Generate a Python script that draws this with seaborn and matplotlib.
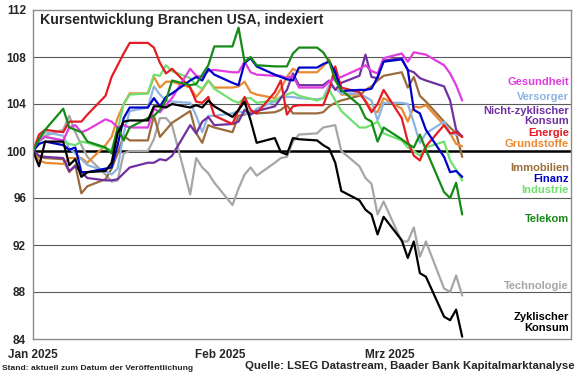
import numpy as np
import pandas as pd
import matplotlib
matplotlib.use("Agg")
import matplotlib.pyplot as plt
import matplotlib.transforms as mtransforms
import seaborn as sns

# ---------------- data (index, start = 100) ----------------
dates = pd.bdate_range("2025-01-01", "2025-03-13")

gesundheit = [100, 100.9, 101.2, 100.9, 102.0, 102.2, 101.6, 101.8, 102.7, 102.5, 102.0, 102.2, 102.0, 102.0,
              103.6, 103.3, 103.9, 104.5, 107.0, 106.4, 106.3, 106.8, 106.9, 106.7, 106.7, 107.6, 106.7, 106.5,
              106.4, 106.4, 106.2, 106.4, 105.4, 105.4, 105.4, 105.9, 106.2, 106.3, 107.0, 107.3, 106.8, 106.6,
              107.9, 108.3, 107.6, 108.4, 108.3, 108.2, 107.3, 106.6, 105.6, 104.3]
versorger = [100, 101.0, 101.6, 101.3, 100.2, 99.8, 99.3, 98.8, 98.3, 98.0, 98.5, 101.5, 103.4, 103.7,
             105.5, 104.8, 104.3, 104.2, 104.1, 103.0, 101.6, 103.0, 103.0, 103.2, 103.4, 103.2, 103.1, 103.6,
             104.2, 104.6, 104.6, 104.6, 104.5, 104.4, 104.5, 105.6, 105.3, 104.9, 104.9, 104.6, 104.3, 102.6,
             104.1, 104.1, 104.0, 102.4, 100.7, 101.5, 102.5, 101.5, 101.4, 101.3]
nicht_zykl = [100, 99.6, 99.5, 99.4, 98.3, 98.7, 98.2, 97.7, 97.5, 97.5, 97.6, 98.1, 98.6, 99.0,
              99.0, 99.3, 99.2, 99.6, 102.2, 101.5, 102.5, 102.9, 102.2, 102.3, 102.5, 103.5, 103.1, 103.4,
              103.8, 104.5, 105.2, 106.6, 105.6, 105.6, 105.6, 106.0, 105.2, 105.8, 106.4, 108.2, 106.3, 106.2,
              107.7, 107.9, 106.9, 106.7, 106.2, 106.0, 105.5, 104.3, 101.8, 101.2]
energie = [100, 101.4, 101.8, 101.6, 102.5, 102.5, 102.5, 103.1, 104.7, 106.3, 107.3, 108.3, 109.2, 109.2,
           108.8, 107.5, 106.6, 107.0, 105.4, 104.2, 104.1, 104.6, 103.0, 102.3, 103.5, 104.6, 103.5, 103.2,
           105.0, 106.0, 103.1, 103.8, 103.9, 103.9, 103.9, 105.2, 107.2, 105.4, 105.0, 104.2, 103.3, 104.0,
           105.2, 102.8, 100.8, 99.6, 99.2, 100.4, 102.2, 101.5, 101.6, 101.2]
grundstoffe = [100, 99.2, 99.0, 98.9, 99.4, 99.4, 99.4, 99.0, 100.5, 101.2, 102.8, 104.0, 104.9, 104.9,
               106.3, 105.4, 105.9, 105.9, 105.4, 104.6, 105.2, 106.0, 105.4, 105.4, 105.5, 105.9, 105.0, 104.8,
               104.5, 105.3, 106.3, 107.0, 106.7, 106.7, 107.2, 107.8, 106.3, 104.8, 104.8, 104.3, 103.5, 103.3,
               104.5, 103.6, 102.5, 103.8, 103.7, 103.9, 102.2, 101.5, 100.6, 100.4]
immobilien = [100, 99.5, 99.4, 99.3, 98.2, 98.8, 96.4, 97.0, 97.6, 98.5, 99.8, 101.3, 100.9, 100.9,
              103.0, 101.2, 101.8, 102.4, 103.4, 101.5, 100.7, 102.2, 102.0, 101.6, 103.0, 103.1, 103.3, 103.2,
              103.3, 103.5, 103.9, 103.2, 103.2, 103.2, 103.3, 103.8, 104.1, 104.3, 104.7, 105.2, 105.5, 106.0,
              106.4, 106.7, 105.4, 106.3, 104.7, 104.2, 102.5, 102.0, 101.5, 99.5]
finanz = [100, 100.6, 100.8, 100.5, 100.1, 100.3, 98.2, 98.2, 98.5, 98.6, 100.5, 102.8, 103.7, 103.7,
          104.5, 103.8, 104.6, 104.9, 106.0, 106.3, 106.0, 107.0, 106.5, 105.8, 105.6, 107.5, 107.9, 107.2,
          106.5, 106.3, 106.1, 106.0, 107.1, 107.1, 107.4, 107.6, 106.7, 105.1, 105.2, 105.2, 105.3, 106.3,
          107.6, 107.8, 106.9, 103.5, 103.2, 101.8, 99.5, 98.2, 98.3, 97.8]
industrie = [100, 100.8, 101.2, 100.9, 100.6, 100.5, 100.8, 100.7, 100.2, 100.1, 101.8, 104.0, 104.8, 104.9,
             106.5, 106.4, 107.3, 106.8, 106.2, 105.6, 105.3, 106.0, 105.3, 104.3, 104.1, 104.5, 104.5, 104.1,
             104.3, 104.6, 104.8, 105.0, 104.7, 104.3, 104.5, 105.2, 104.3, 103.4, 102.0, 102.0, 102.2, 102.5,
             101.5, 100.9, 100.3, 100.0, 99.6, 100.3, 100.8, 99.2, 98.4, 97.5]
telekom = [100, 101.0, 101.8, 103.6, 102.0, 101.8, 101.6, 100.8, 100.3, 99.8, 102.0, 100.9, 102.0, 102.8,
           103.0, 103.5, 104.3, 106.0, 105.6, 105.7, 106.5, 107.3, 108.9, 108.9, 110.5, 107.6, 108.0, 107.3,
           107.2, 107.2, 107.2, 108.3, 108.8, 108.8, 108.4, 107.6, 106.0, 105.2, 103.9, 102.8, 102.5, 100.8,
           102.0, 101.0, 100.6, 100.3, 101.4, 100.1, 96.5, 96.0, 97.3, 94.6]
technologie = [100, 100.9, 101.3, 101.8, 103.0, 101.6, 100.5, 99.5, 98.0, 97.4, 97.5, 99.8, 100.0, 100.0,
               101.0, 102.8, 102.8, 102.2, 96.3, 99.4, 98.6, 98.1, 97.3, 95.4, 96.8, 98.0, 98.6, 97.9,
               99.0, 99.4, 99.5, 100.8, 101.4, 101.5, 102.0, 102.1, 102.2, 100.0, 98.7, 97.7, 97.2, 94.6,
               95.7, 92.3, 92.3, 93.5, 91.0, 92.3, 88.3, 88.0, 89.4, 87.7]
zyklisch = [100, 98.7, 100.8, 100.8, 98.8, 99.3, 97.8, 98.2, 98.3, 99.0, 101.5, 102.5, 102.6, 102.6,
            103.8, 103.8, 103.7, 104.0, 103.7, 103.9, 103.7, 104.3, 103.8, 102.9, 103.5, 104.2, 102.6, 100.7,
            101.1, 99.9, 99.7, 101.1, 101.0, 100.9, 100.5, 100.2, 99.0, 96.6, 95.8, 95.0, 94.6, 92.9,
            94.4, 92.4, 90.9, 92.3, 89.6, 89.3, 85.9, 85.6, 86.5, 84.2]

series_names = ["Technologie", "Immobilien", "Grundstoffe", "Versorger", "Industrie", "Nicht-zyklischer Konsum",
                "Energie", "Gesundheit", "Finanz", "Telekom", "Zyklischer Konsum"]
series_values = [technologie, immobilien, grundstoffe, versorger, industrie, nicht_zykl,
                 energie, gesundheit, finanz, telekom, zyklisch]
series_colors = ["#a6a6a6", "#9c6b3c", "#ea8a30", "#8db4e2", "#6fe06f", "#7030a0",
                 "#e41c23", "#e03ce0", "#0000cc", "#168a16", "#000000"]

label_texts = ["Gesundheit", "Versorger", "Nicht-zyklischer\nKonsum", "Energie", "Grundstoffe",
               "Immobilien", "Finanz", "Industrie", "Telekom", "Technologie", "Zyklischer\nKonsum"]
label_colors = ["#e03ce0", "#8db4e2", "#7030a0", "#e41c23", "#ea8a30",
                "#9c6b3c", "#0000cc", "#6fe06f", "#168a16", "#a6a6a6", "#000000"]
label_y = [105.87, 104.6, 103.0, 101.53, 100.6, 98.55, 97.6, 96.7, 94.2, 88.5, 85.4]

y_ticks = [84, 88, 92, 96, 100, 104, 108, 112]
x_tick_dates = ["2025-01-01", "2025-02-01", "2025-03-01"]
x_tick_labels = ["Jan 2025", "Feb 2025", "Mrz 2025"]

# ---------------- build table ----------------
df = pd.concat([pd.DataFrame({"Datum": dates, "Index": v, "Branche": n})
                for n, v in zip(series_names, series_values)], ignore_index=True)

sns.set_style("white")
plt.rcParams["font.family"] = ["Liberation Sans", "DejaVu Sans"]
plt.rcParams["font.weight"] = "bold"

fig = plt.figure(figsize=(5.8, 3.75), dpi=100)
ax = fig.add_axes([33 / 580, 36 / 375, 538 / 580, 329 / 375])

for yv in [88, 92, 96, 104, 108]:
    ax.axhline(yv, color="#5a5a5a", lw=0.8, zorder=1)
ax.axhline(100, color="black", lw=1.8, zorder=1.5)

sns.lineplot(data=df, x="Datum", y="Index", hue="Branche", hue_order=series_names,
             palette=dict(zip(series_names, series_colors)), linewidth=1.6,
             legend=False, ax=ax, zorder=2)

ax.set_xlim(pd.Timestamp("2025-01-01"), pd.Timestamp("2025-03-31"))
ax.set_ylim(84, 112)
ax.set_yticks(y_ticks)
ax.set_yticklabels([str(t) for t in y_ticks], fontsize=8.5, fontweight="bold")
ax.set_xticks(pd.to_datetime(x_tick_dates))
ax.set_xticklabels(x_tick_labels, fontsize=8.5, fontweight="bold")
ax.tick_params(axis="y", length=0, pad=5)
ax.tick_params(axis="x", length=3, width=0.8, color="#808080", direction="out", pad=4)
ax.set_xlabel("")
ax.set_ylabel("")
for sp in ax.spines.values():
    sp.set_color("#8c8c8c")
    sp.set_linewidth(1.0)
ax.grid(False)

trans = mtransforms.blended_transform_factory(ax.transAxes, ax.transData)
for t, c, y in zip(label_texts, label_colors, label_y):
    ax.text(0.996, y, t, transform=trans, ha="right", va="center", color=c,
            fontsize=8, fontweight="bold", linespacing=1.05, multialignment="right")

fig.text(40 / 580, 1 - 20 / 375, "Kursentwicklung Branchen USA, indexiert",
         fontsize=10.2, fontweight="bold", va="center", ha="left")
fig.text(2 / 580, 1 - 368 / 375, "Stand: aktuell zum Datum der Veröffentlichung",
         fontsize=6.1, fontweight="bold", va="center", ha="left")
fig.text(575 / 580, 1 - 366 / 375, "Quelle: LSEG Datastream, Baader Bank Kapitalmarktanalyse",
         fontsize=8.2, fontweight="bold", va="center", ha="right")

fig.savefig("out.png", dpi=100)
